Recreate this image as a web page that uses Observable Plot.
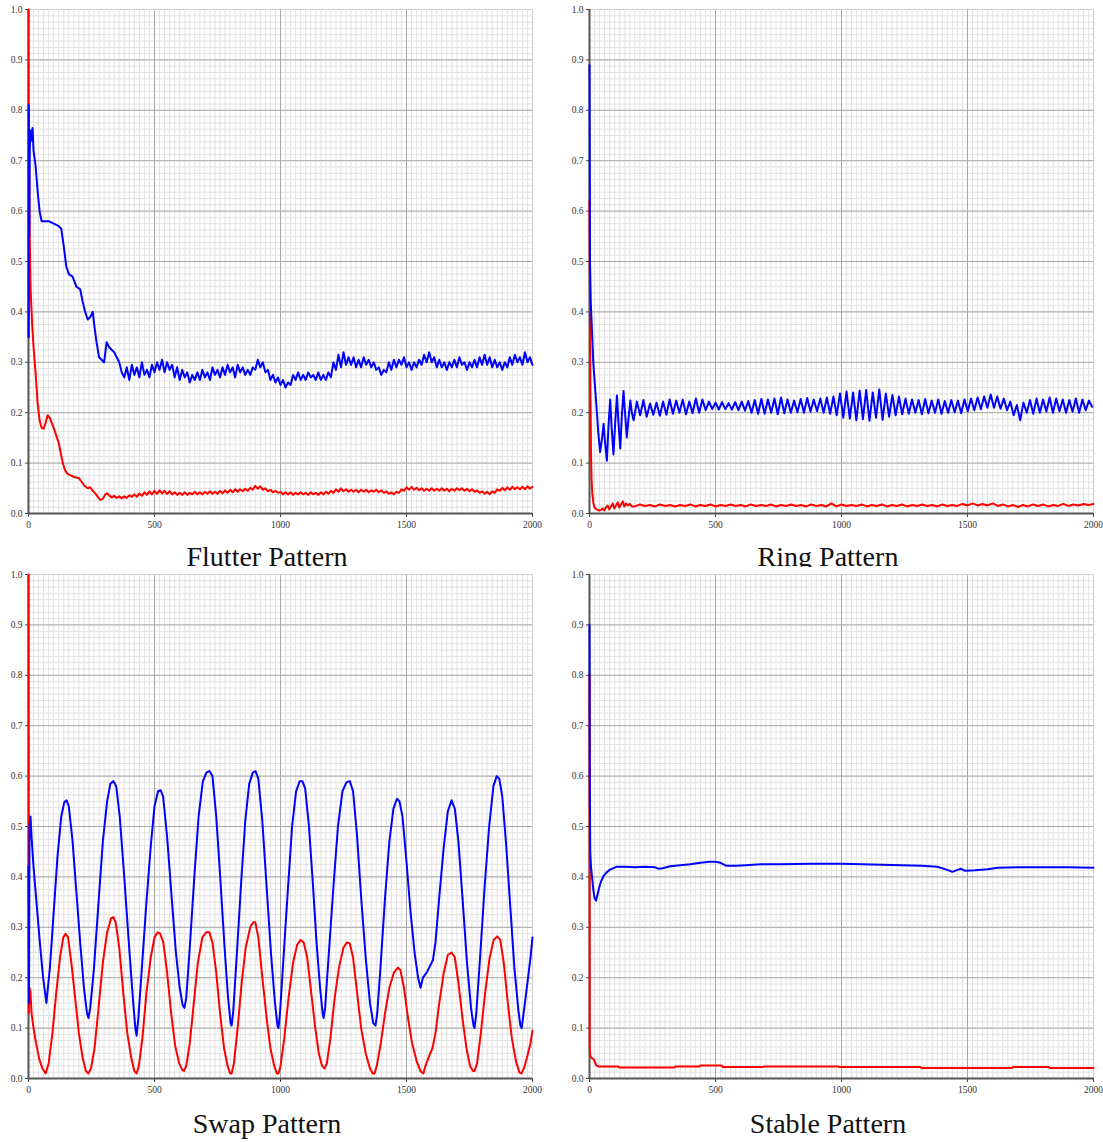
<!DOCTYPE html>
<html><head><meta charset="utf-8">
<script src="https://cdn.jsdelivr.net/npm/d3@7"></script>
<script src="https://cdn.jsdelivr.net/npm/@observablehq/plot@0.6"></script>
<style>
body{margin:0;background:#fff;}
#wrap{position:relative;width:1103px;height:1142px;overflow:hidden;background:#fff;}
.panel{position:absolute;width:548px;height:539px;}
.panel svg{max-width:none !important;width:548px;height:539px;}
.title{position:absolute;font-family:"Liberation Serif",serif;font-size:28px;line-height:32px;color:#111;text-align:center;width:534px;overflow:hidden;white-space:nowrap;}
</style>
</head><body>
<div id="wrap"></div>
<script>
// ---- ticks ----
const majorX = [0, 500, 1000, 1500, 2000];
const majorY = [0, 0.1, 0.2, 0.3, 0.4, 0.5, 0.6, 0.7, 0.8, 0.9, 1.0];
const titles = ["Flutter Pattern", "Ring Pattern", "Swap Pattern", "Stable Pattern"];

// ---- Flutter ----
const flutterBlueHead = [[0,0.35],[1,0.81],[3,0.55],[5,0.72],[8,0.76],[12,0.74],[16,0.765],[20,0.72],[28,0.69],[36,0.64],[44,0.6],[52,0.58],[60,0.58],[80,0.58],[100,0.575],[120,0.57],[130,0.565],[140,0.53],[150,0.49],[160,0.475],[175,0.47],[190,0.45],[205,0.445],[215,0.42],[225,0.4],[235,0.385],[245,0.39],[255,0.4],[262,0.37],[270,0.34],[280,0.31],[290,0.305],[300,0.3],[310,0.34],[320,0.33],[330,0.325],[340,0.32],[350,0.31],[360,0.3],[370,0.28]];
const flutterBlueTail = [
0.27,0.29,0.265,0.295,0.275,0.29,0.27,0.3,0.275,0.285,
0.27,0.295,0.28,0.3,0.285,0.305,0.28,0.3,0.285,0.295,
0.27,0.29,0.265,0.285,0.27,0.28,0.26,0.275,0.265,0.28,
0.265,0.285,0.27,0.28,0.265,0.29,0.275,0.285,0.27,0.29,
0.275,0.295,0.28,0.29,0.27,0.295,0.28,0.29,0.275,0.285,
0.275,0.29,0.285,0.305,0.29,0.3,0.28,0.285,0.265,0.275,
0.26,0.27,0.255,0.265,0.25,0.26,0.255,0.275,0.265,0.28,
0.265,0.275,0.265,0.28,0.27,0.275,0.265,0.28,0.265,0.275,
0.265,0.28,0.27,0.3,0.285,0.315,0.29,0.32,0.295,0.31,
0.295,0.31,0.29,0.305,0.29,0.31,0.295,0.305,0.29,0.3,
0.285,0.29,0.275,0.285,0.28,0.3,0.285,0.305,0.29,0.305,
0.295,0.31,0.29,0.3,0.285,0.3,0.29,0.305,0.295,0.315,
0.3,0.32,0.3,0.31,0.29,0.305,0.29,0.3,0.285,0.3,
0.29,0.305,0.29,0.31,0.295,0.3,0.285,0.3,0.29,0.305,
0.29,0.31,0.295,0.315,0.295,0.31,0.29,0.305,0.29,0.3,
0.285,0.3,0.29,0.31,0.295,0.315,0.3,0.31,0.295,0.32,
0.3,0.31,0.295];
const flutterRedHead = [[0,1.0],[1,0.35],[3,0.69],[5,0.55],[8,0.45],[14,0.38],[20,0.33],[28,0.28],[36,0.22],[44,0.185],[52,0.17],[60,0.168],[68,0.18],[76,0.195],[84,0.19],[92,0.18],[100,0.17],[110,0.155],[120,0.14],[128,0.12],[136,0.1],[146,0.085],[156,0.078],[170,0.075],[185,0.072],[200,0.07],[212,0.062],[222,0.055],[235,0.05],[245,0.052],[255,0.045],[265,0.04],[275,0.033],[285,0.027],[295,0.029],[305,0.038],[312,0.04]];
const flutterRedTail = [
0.036,0.032,0.035,0.031,0.034,0.03,0.034,0.031,0.036,0.033,
0.038,0.033,0.04,0.035,0.042,0.037,0.044,0.038,0.045,0.039,
0.046,0.04,0.045,0.039,0.044,0.038,0.042,0.037,0.041,0.037,
0.042,0.037,0.041,0.038,0.043,0.038,0.042,0.038,0.043,0.039,
0.044,0.039,0.043,0.039,0.045,0.04,0.046,0.041,0.047,0.042,
0.048,0.043,0.048,0.044,0.049,0.045,0.051,0.047,0.055,0.049,
0.054,0.047,0.05,0.044,0.047,0.042,0.045,0.041,0.043,0.038,
0.042,0.038,0.042,0.037,0.041,0.038,0.042,0.038,0.041,0.037,
0.042,0.038,0.041,0.037,0.042,0.038,0.043,0.039,0.045,0.041,
0.048,0.043,0.05,0.044,0.048,0.043,0.047,0.043,0.047,0.042,
0.047,0.043,0.047,0.042,0.046,0.043,0.047,0.042,0.046,0.041,
0.044,0.039,0.042,0.038,0.043,0.041,0.048,0.045,0.052,0.047,
0.053,0.047,0.051,0.046,0.05,0.045,0.049,0.045,0.05,0.045,
0.049,0.045,0.05,0.045,0.049,0.044,0.049,0.045,0.05,0.046,
0.05,0.045,0.049,0.044,0.048,0.043,0.046,0.041,0.044,0.039,
0.043,0.038,0.044,0.041,0.048,0.045,0.051,0.046,0.052,0.047,
0.053,0.048,0.052,0.048,0.053,0.048,0.054,0.049,0.053];

// ---- Ring ----
const ringBlueHead = [[0,0.89],[2,0.5],[5,0.42],[10,0.36],[15,0.3],[20,0.264],[28,0.21],[35,0.16],[42,0.122],[50,0.15],[56,0.178],[62,0.14],[69,0.105],[75,0.17],[82,0.226],[88,0.17],[95,0.117],[102,0.18],[109,0.234],[115,0.18],[122,0.129],[128,0.19],[135,0.243],[141,0.2],[148,0.151],[155,0.19],[162,0.224],[168,0.2]];
const ringBlueTail = [
0.185,0.222,0.195,0.225,0.192,0.218,0.196,0.22,0.194,0.222,
0.196,0.226,0.198,0.224,0.2,0.226,0.197,0.222,0.199,0.228,
0.2,0.226,0.205,0.222,0.207,0.22,0.206,0.221,0.207,0.219,
0.206,0.221,0.205,0.222,0.204,0.223,0.2,0.225,0.198,0.227,
0.198,0.226,0.2,0.228,0.197,0.23,0.199,0.226,0.2,0.224,
0.201,0.227,0.2,0.229,0.202,0.226,0.203,0.228,0.2,0.23,
0.198,0.232,0.195,0.238,0.19,0.242,0.188,0.24,0.185,0.244,
0.187,0.245,0.184,0.24,0.19,0.246,0.186,0.238,0.192,0.235,
0.195,0.232,0.197,0.228,0.198,0.226,0.2,0.225,0.197,0.227,
0.199,0.224,0.2,0.226,0.198,0.223,0.2,0.225,0.201,0.224,
0.199,0.226,0.203,0.228,0.205,0.23,0.207,0.232,0.21,0.236,
0.21,0.232,0.208,0.228,0.205,0.222,0.195,0.215,0.185,0.22,
0.2,0.225,0.198,0.228,0.2,0.226,0.202,0.23,0.2,0.228,
0.203,0.226,0.2,0.225,0.202,0.228,0.2,0.226,0.205,0.224,
0.212];
const ringRedHead = [[0,0.62],[2,0.38],[4,0.22],[6,0.12],[8,0.07],[11,0.04],[15,0.022],[20,0.012],[28,0.008],[36,0.006],[45,0.007],[52,0.01],[58,0.006],[65,0.012],[72,0.016],[78,0.008],[85,0.014],[92,0.02],[98,0.01],[105,0.016],[112,0.022],[118,0.012],[125,0.018],[132,0.024],[138,0.014],[145,0.02],[152,0.016],[160,0.019],[168,0.014]];
const ringRedTail = [
0.014,0.018,0.015,0.017,0.014,0.018,0.015,0.017,0.014,0.017,
0.015,0.018,0.014,0.017,0.015,0.018,0.014,0.017,0.015,0.018,
0.015,0.017,0.014,0.018,0.015,0.017,0.015,0.018,0.014,0.017,
0.015,0.018,0.015,0.017,0.014,0.018,0.015,0.017,0.014,0.02,
0.014,0.018,0.015,0.017,0.015,0.018,0.014,0.017,0.015,0.018,
0.014,0.017,0.015,0.018,0.014,0.017,0.015,0.018,0.015,0.017,
0.014,0.018,0.015,0.017,0.015,0.019,0.016,0.02,0.016,0.019,
0.016,0.02,0.015,0.018,0.014,0.017,0.013,0.017,0.014,0.018,
0.015,0.018,0.014,0.017,0.015,0.019,0.015,0.018,0.016,0.019,
0.017,0.019];

// ---- Swap ----
const swapBlue = [[0,0.42],[2,0.15],[4,0.5],[8,0.52],[12,0.48],[20,0.42],[30,0.36],[45,0.27],[58,0.2],[71,0.15],
[85,0.22],[100,0.33],[115,0.44],[130,0.52],[142,0.548],[151,0.552],[160,0.54],[175,0.47],[190,0.37],[205,0.27],[220,0.18],[232,0.13],[238,0.12],[245,0.14],
[260,0.22],[278,0.35],[295,0.47],[312,0.55],[325,0.585],[337,0.59],[348,0.58],[362,0.52],[380,0.4],[398,0.27],[414,0.16],[424,0.1],[429,0.085],[436,0.12],
[450,0.22],[468,0.35],[485,0.46],[500,0.54],[514,0.57],[524,0.572],[534,0.56],[550,0.48],[568,0.36],[585,0.25],[600,0.18],[612,0.145],[619,0.14],[626,0.16],
[640,0.26],[658,0.4],[675,0.52],[692,0.59],[706,0.607],[718,0.61],[730,0.6],[745,0.52],[762,0.39],[778,0.26],[792,0.16],[802,0.11],[806,0.105],[812,0.13],
[826,0.24],[844,0.39],[860,0.51],[876,0.585],[890,0.607],[901,0.61],[912,0.595],[928,0.51],[945,0.38],[962,0.25],[978,0.15],[988,0.105],[992,0.1],[998,0.13],
[1012,0.24],[1030,0.38],[1046,0.5],[1062,0.57],[1076,0.59],[1087,0.59],[1098,0.575],[1113,0.5],[1128,0.39],[1143,0.27],[1157,0.18],[1167,0.13],[1171,0.12],[1177,0.14],
[1192,0.25],[1210,0.38],[1228,0.5],[1246,0.57],[1262,0.588],[1275,0.59],[1288,0.57],[1304,0.48],[1320,0.36],[1338,0.24],[1355,0.15],[1368,0.11],[1377,0.105],[1384,0.13],
[1398,0.23],[1415,0.36],[1432,0.47],[1448,0.535],[1462,0.555],[1472,0.55],[1484,0.52],[1500,0.43],[1516,0.33],[1532,0.25],[1546,0.2],[1556,0.18],[1565,0.2],[1580,0.21],[1595,0.225],[1605,0.235],[1615,0.27],[1630,0.36],[1648,0.46],[1664,0.53],[1679,0.552],[1692,0.535],[1706,0.47],[1722,0.36],[1740,0.23],[1756,0.14],[1766,0.105],[1770,0.1],[1777,0.13],
[1792,0.24],[1810,0.38],[1828,0.5],[1845,0.58],[1858,0.6],[1868,0.595],[1880,0.56],[1896,0.46],[1912,0.34],[1928,0.22],[1944,0.135],[1952,0.105],[1957,0.1],[1965,0.13],[1980,0.19],[1992,0.24],[2000,0.28]];
const swapRed = [[0,1.0],[1,0.13],[4,0.18],[8,0.17],[12,0.13],[20,0.1],[30,0.07],[42,0.04],[55,0.02],[68,0.01],[80,0.03],[95,0.09],[110,0.17],[125,0.24],[138,0.28],[147,0.287],[157,0.28],[170,0.23],[185,0.16],[200,0.09],[215,0.04],[228,0.015],[238,0.01],[248,0.02],[262,0.06],[278,0.14],[295,0.23],[312,0.29],[328,0.318],[337,0.32],[346,0.31],[360,0.26],[376,0.17],[392,0.09],[408,0.04],[420,0.015],[429,0.01],[438,0.025],[452,0.08],[468,0.17],[485,0.24],[500,0.28],[512,0.29],[522,0.288],[535,0.27],[550,0.21],[566,0.13],[582,0.065],[598,0.03],[610,0.017],[617,0.015],[626,0.025],[640,0.07],[656,0.15],[672,0.23],[690,0.28],[705,0.29],[718,0.29],[730,0.27],[745,0.21],[760,0.13],[776,0.06],[790,0.025],[800,0.01],[806,0.01],[815,0.03],[830,0.1],[846,0.19],[862,0.26],[880,0.3],[892,0.31],[900,0.31],[912,0.28],[928,0.2],[945,0.12],[960,0.06],[975,0.025],[986,0.01],[992,0.01],[1000,0.025],[1015,0.08],[1032,0.16],[1050,0.23],[1066,0.265],[1080,0.275],[1092,0.27],[1106,0.24],[1122,0.17],[1138,0.1],[1152,0.05],[1165,0.025],[1175,0.02],[1184,0.03],[1198,0.08],[1215,0.16],[1232,0.22],[1250,0.26],[1264,0.27],[1275,0.268],[1288,0.24],[1304,0.17],[1320,0.1],[1338,0.05],[1355,0.02],[1366,0.01],[1373,0.01],[1382,0.025],[1398,0.07],[1415,0.13],[1432,0.18],[1450,0.21],[1466,0.22],[1476,0.215],[1490,0.18],[1506,0.12],[1522,0.07],[1540,0.035],[1555,0.015],[1567,0.01],[1575,0.025],[1590,0.045],[1603,0.06],[1615,0.09],[1630,0.15],[1648,0.21],[1664,0.245],[1679,0.25],[1692,0.24],[1706,0.19],[1722,0.12],[1738,0.06],[1752,0.025],[1764,0.015],[1770,0.015],[1780,0.03],[1795,0.09],[1812,0.17],[1830,0.24],[1846,0.275],[1860,0.282],[1872,0.275],[1886,0.23],[1902,0.15],[1918,0.08],[1934,0.035],[1948,0.012],[1956,0.01],[1966,0.02],[1980,0.045],[1992,0.07],[2000,0.095]];

// ---- Stable ----
const stableBlue = [[0,0.9],[1,0.6],[3,0.45],[6,0.42],[10,0.4],[15,0.375],[20,0.358],[26,0.353],[32,0.365],[40,0.382],[46,0.391],[56,0.402],[66,0.408],[80,0.414],[106,0.42],[140,0.42],[180,0.419],[220,0.42],[260,0.419],[275,0.416],[290,0.417],[320,0.421],[360,0.423],[400,0.425],[440,0.428],[477,0.43],[500,0.43],[520,0.428],[543,0.422],[580,0.422],[620,0.423],[680,0.425],[755,0.425],[880,0.426],[1000,0.426],[1080,0.425],[1160,0.424],[1240,0.423],[1320,0.422],[1380,0.42],[1420,0.414],[1440,0.41],[1460,0.414],[1475,0.416],[1490,0.412],[1530,0.413],[1580,0.415],[1620,0.418],[1700,0.419],[1800,0.419],[1900,0.419],[2000,0.418]];
const stableRed = [[0,0.8],[1,0.06],[3,0.045],[8,0.041],[15,0.039],[20,0.035],[27,0.026],[35,0.024],[113,0.024],[118,0.022],[338,0.022],[342,0.024],[437,0.024],[440,0.026],[524,0.026],[528,0.023],[689,0.023],[692,0.024],[987,0.024],[990,0.023],[1312,0.023],[1316,0.021],[1677,0.021],[1680,0.023],[1822,0.023],[1826,0.021],[2000,0.021]];

function toRows(head, tailStart, tailStep, tail) {
  const rows = head.map(([x, y]) => ({x, y}));
  if (tail) tail.forEach((y, i) => rows.push({x: tailStart + i * tailStep, y}));
  return rows;
}

const minorX = d3.range(0, 2001, 20);
const minorY = d3.range(0, 81).map(i => i / 80);

function panel(red, blue) {
  return Plot.plot({
    width: 548, height: 539,
    marginTop: 9, marginLeft: 28, marginRight: 16, marginBottom: 26,
    style: {fontFamily: "'Liberation Serif', serif", fontSize: "9.5px", color: "#333", background: "transparent", overflow: "visible"},
    x: {domain: [0, 2000], label: null},
    y: {domain: [0, 1], label: null},
    marks: [
      Plot.gridX(minorX, {stroke: "#e2e2e2", strokeOpacity: 1}),
      Plot.gridY(minorY, {stroke: "#e2e2e2", strokeOpacity: 1}),
      Plot.gridX(majorX, {stroke: "#a8a8a8", strokeOpacity: 1}),
      Plot.gridY(majorY, {stroke: "#a8a8a8", strokeOpacity: 1}),
      Plot.ruleY([1], {stroke: "#cfcfcf"}),
      Plot.ruleX([2000], {stroke: "#cfcfcf"}),
      Plot.axisX(majorX, {tickSize: 4, tickPadding: 4, tickFormat: d => String(d), stroke: "#444", label: null}),
      Plot.axisY(majorY, {tickSize: 3, tickPadding: 3, tickFormat: d3.format(".1f"), stroke: "#444", label: null}),
      Plot.ruleY([0], {stroke: "#555", strokeWidth: 2}),
      Plot.ruleX([0], {stroke: "#555", strokeWidth: 2}),
      Plot.line(red, {x: "x", y: "y", stroke: "#ff0000", strokeWidth: 2, strokeLinejoin: "round"}),
      Plot.line(blue, {x: "x", y: "y", stroke: "#0000ff", strokeWidth: 2, strokeLinejoin: "round"})
    ]
  });
}

const panels = [
  {red: toRows(flutterRedHead, 320, 10, flutterRedTail), blue: toRows(flutterBlueHead, 380, 10, flutterBlueTail), left: 0, top: 0},
  {red: toRows(ringRedHead, 180, 20, ringRedTail), blue: toRows(ringBlueHead, 175, 13, ringBlueTail), left: 561, top: 0},
  {red: toRows(swapRed), blue: toRows(swapBlue), left: 0, top: 565},
  {red: toRows(stableRed), blue: toRows(stableBlue), left: 561, top: 565}
];

const wrap = document.getElementById("wrap");
panels.forEach((p, i) => {
  const t = document.createElement("div");
  t.className = "title";
  t.textContent = titles[i];
  t.style.left = (i % 2 === 0 ? 0 : 561) + "px";
  if (i < 2) { t.style.top = "541px"; t.style.height = "26px"; }
  else { t.style.top = "1108px"; t.style.height = "34px"; }
  wrap.appendChild(t);
  const d = document.createElement("div");
  d.className = "panel";
  d.style.left = p.left + "px";
  d.style.top = p.top + "px";
  d.appendChild(panel(p.red, p.blue));
  wrap.appendChild(d);
});
</script>
</body></html>
